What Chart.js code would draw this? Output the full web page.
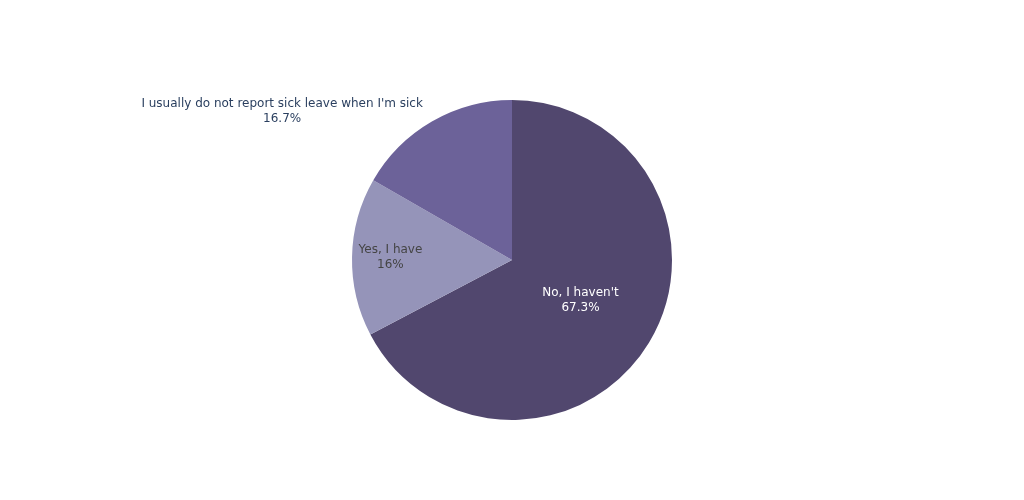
<!DOCTYPE html>
<html>
<head>
<meta charset="utf-8">
<script src="https://cdn.jsdelivr.net/npm/chart.js@4"></script>
<style>
  html, body { margin: 0; padding: 0; background: #fff; }
  #wrap { width: 1024px; height: 500px; }
</style>
</head>
<body>
<div id="wrap"><canvas id="pie"></canvas></div>
<script>
const labels = ["No, I haven't", 'Yes, I have', "I usually do not report sick leave when I'm sick"];
const values = [67.3, 16, 16.7];
const colors = ['#51476e', '#9594b9', '#6c6299'];
const textColors = ['#ffffff', '#444444', '#2a3f5f'];

// inside / outside text like the original
const sliceText = {
    id: 'sliceText',
    afterDatasetsDraw(chart) {
        const ctx = chart.ctx;
        const meta = chart.getDatasetMeta(0);
        ctx.save();
        ctx.font = '12px "DejaVu Sans", Verdana, sans-serif';
        ctx.textBaseline = 'middle';
        ctx.textAlign = 'center';
        meta.data.forEach((arc, i) => {
            const mid = (arc.startAngle + arc.endAngle) / 2;
            const lines = [labels[i], values[i] + '%'];
            ctx.fillStyle = textColors[i];
            if (i === 2) {
                // outside label
                const ex = arc.x + Math.cos(mid) * arc.outerRadius;
                const ey = arc.y + Math.sin(mid) * arc.outerRadius;
                const w = Math.max(...lines.map(l => ctx.measureText(l).width));
                const cx = ex - 9 - w / 2;
                ctx.fillText(lines[0], cx, ey - 18);
                ctx.fillText(lines[1], cx, ey - 3);
            } else {
                const f = i === 0 ? 0.5 : 0.76;
                const cx = arc.x + Math.cos(mid) * arc.outerRadius * f;
                const cy = arc.y + Math.sin(mid) * arc.outerRadius * f;
                ctx.fillText(lines[0], cx, cy - 8);
                ctx.fillText(lines[1], cx, cy + 7);
            }
        });
        ctx.restore();
    }
};

new Chart(document.getElementById('pie'), {
    type: 'pie',
    data: {
        labels: labels,
        datasets: [{
            data: values,
            backgroundColor: colors,
            borderWidth: 0
        }]
    },
    options: {
        responsive: true,
        maintainAspectRatio: false,
        animation: false,
        layout: { padding: { top: 100, bottom: 80, left: 0, right: 0 } },
        plugins: {
            legend: { display: false },
            tooltip: { enabled: false }
        }
    },
    plugins: [sliceText]
});
</script>
</body>
</html>
